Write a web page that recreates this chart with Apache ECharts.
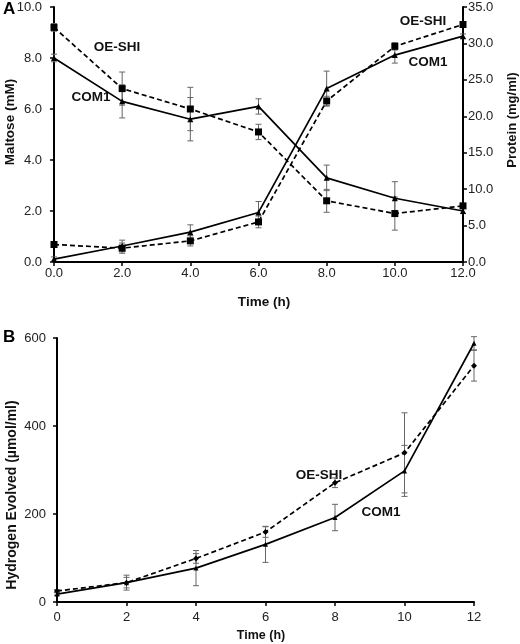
<!DOCTYPE html>
<html><head><meta charset="utf-8">
<script src="https://cdn.jsdelivr.net/npm/echarts@6/dist/echarts.min.js"></script>
<style>html,body{margin:0;padding:0;background:#fff}#c{width:520px;height:644px}</style>
</head><body><div id="c"></div>
<script>
var timeTop = [0, 2, 4, 6, 8, 10, 12];
var maltoseCOM1 = [8.0, 6.3, 5.6, 6.1, 3.3, 2.5, 2.0];
var maltoseCOM1Err = [0.15, 0.65, 0.85, 0.3, 0.5, 0.65, 0.1];
var maltoseOE = [9.2, 6.8, 6.0, 5.1, 2.4, 1.9, 2.2];
var maltoseOEErr = [0.15, 0.65, 0.85, 0.3, 0.45, 0.65, 0.1];
var proteinCOM1 = [0.4, 2.2, 4.1, 6.8, 23.8, 28.4, 31.0];
var proteinCOM1Err = [0.3, 0.8, 1.0, 1.5, 2.4, 1.1, 0.3];
var proteinOE = [2.4, 1.9, 2.9, 5.5, 22.1, 29.6, 32.6];
var proteinOEErr = [0.2, 0.7, 0.7, 0.8, 0.65, 0.5, 0.3];
var timeBottom = [0, 2, 4, 6, 8, 10, 12];
var h2COM1 = [18, 44, 77, 131, 192, 298, 588];
var h2COM1Err = [3, 17, 40, 41, 30, 58, 15];
var h2OE = [25, 44, 99, 159, 271, 339, 537];
var h2OEErr = [3, 12, 11, 12, 11, 91, 35];

var chart = echarts.init(document.getElementById('c'), null, {renderer: 'canvas'});
var FONT = 'Liberation Sans, Arial, sans-serif';

function pairs(xs, ys) { return xs.map(function (x, i) { return [x, ys[i]]; }); }
function errData(xs, ys, es) { return xs.map(function (x, i) { return [x, ys[i] - es[i], ys[i] + es[i]]; }); }
function errSeries(xs, ys, es, xi, yi) {
  return {
    type: 'custom', xAxisIndex: xi, yAxisIndex: yi, silent: true, z: 1,
    data: errData(xs, ys, es),
    renderItem: function (params, api) {
      var lo = api.coord([api.value(0), api.value(1)]);
      var hi = api.coord([api.value(0), api.value(2)]);
      var w = 3;
      var st = {stroke: '#666', lineWidth: 1};
      return {type: 'group', children: [
        {type: 'line', shape: {x1: lo[0], y1: lo[1], x2: hi[0], y2: hi[1]}, style: st},
        {type: 'line', shape: {x1: lo[0] - w, y1: lo[1], x2: lo[0] + w, y2: lo[1]}, style: st},
        {type: 'line', shape: {x1: hi[0] - w, y1: hi[1], x2: hi[0] + w, y2: hi[1]}, style: st}
      ]};
    }
  };
}
function lineSeries(xs, ys, xi, yi, dashed, symbol, size) {
  return {
    type: 'line', xAxisIndex: xi, yAxisIndex: yi, data: pairs(xs, ys), z: 3,
    symbol: symbol, symbolSize: size, showSymbol: true,
    itemStyle: {color: '#000'},
    lineStyle: {color: '#000', width: 1.7, type: dashed ? [5, 3] : 'solid'},
    animation: false
  };
}
var axisLine = {show: true, lineStyle: {color: '#000', width: 2}};
var axisTick = {show: true, inside: false, length: 4, lineStyle: {color: '#000', width: 1.5}};
function lbl(margin, fmt) {
  var o = {color: '#222', fontFamily: FONT, fontSize: 13, margin: margin};
  if (fmt) o.formatter = function (v) { return v.toFixed(1); };
  return o;
}
function title(text, x, y, size, rot) {
  return {type: 'text', x: x, y: y, rotation: rot ? Math.PI / 2 : 0,
    style: {text: text, fontFamily: FONT, fontSize: size, fontWeight: 'bold', fill: '#111', align: 'center', verticalAlign: 'middle'}};
}

var option = {
  animation: false,
  backgroundColor: '#fff',
  grid: [
    {left: 54, right: 57, top: 7, bottom: 382, containLabel: false},
    {left: 57, right: 46, top: 338, bottom: 42, containLabel: false}
  ],
  xAxis: [
    {gridIndex: 0, type: 'value', min: 0, max: 12, interval: 2,
     axisLine: axisLine, axisTick: axisTick, splitLine: {show: false}, axisLabel: lbl(5, true)},
    {gridIndex: 1, type: 'value', min: 0, max: 12, interval: 2,
     axisLine: axisLine, axisTick: axisTick, splitLine: {show: false}, axisLabel: lbl(9, false)}
  ],
  yAxis: [
    {gridIndex: 0, type: 'value', min: 0, max: 10, interval: 2, position: 'left',
     axisLine: axisLine, axisTick: axisTick, splitLine: {show: false}, axisLabel: lbl(12, true)},
    {gridIndex: 0, type: 'value', min: 0, max: 35, interval: 5, position: 'right',
     axisLine: axisLine, axisTick: axisTick, splitLine: {show: false}, axisLabel: lbl(5, true)},
    {gridIndex: 1, type: 'value', min: 0, max: 600, interval: 200, position: 'left',
     axisLine: axisLine, axisTick: axisTick, splitLine: {show: false}, axisLabel: lbl(11, false)}
  ],
  series: [
    errSeries(timeTop, maltoseCOM1, maltoseCOM1Err, 0, 0),
    errSeries(timeTop, maltoseOE, maltoseOEErr, 0, 0),
    errSeries(timeTop, proteinCOM1, proteinCOM1Err, 0, 1),
    errSeries(timeTop, proteinOE, proteinOEErr, 0, 1),
    errSeries(timeBottom, h2COM1, h2COM1Err, 1, 2),
    errSeries(timeBottom, h2OE, h2OEErr, 1, 2),
    lineSeries(timeTop, maltoseCOM1, 0, 0, false, 'triangle', 6),
    lineSeries(timeTop, maltoseOE, 0, 0, true, 'rect', 7),
    lineSeries(timeTop, proteinCOM1, 0, 1, false, 'triangle', 6),
    lineSeries(timeTop, proteinOE, 0, 1, true, 'rect', 7),
    lineSeries(timeBottom, h2COM1, 1, 2, false, 'triangle', 5),
    lineSeries(timeBottom, h2OE, 1, 2, true, 'diamond', 6)
  ],
  graphic: [
    {type: 'text', left: 3, top: 1, style: {text: 'A', fontFamily: FONT, fontSize: 17, fontWeight: 'bold', fill: '#000'}},
    {type: 'text', left: 3, top: 329, style: {text: 'B', fontFamily: FONT, fontSize: 17, fontWeight: 'bold', fill: '#000'}},
    title('Maltose (mM)', 10, 122, 13.5, true),
    title('Protein (mg/ml)', 512, 120, 13, true),
    title('Hydrogen Evolved (µmol/ml)', 12, 495, 14, true),
    title('Time (h)', 264, 302, 13.5, false),
    title('Time (h)', 261, 636, 12.5, false),
    title('OE-SHI', 117, 47, 13.5, false),
    title('COM1', 91, 97, 13.5, false),
    title('OE-SHI', 423, 21, 13.5, false),
    title('COM1', 428, 62, 13.5, false),
    title('OE-SHI', 319, 475, 13.5, false),
    title('COM1', 381, 512, 13.5, false)
  ]
};
chart.setOption(option);
</script></body></html>
